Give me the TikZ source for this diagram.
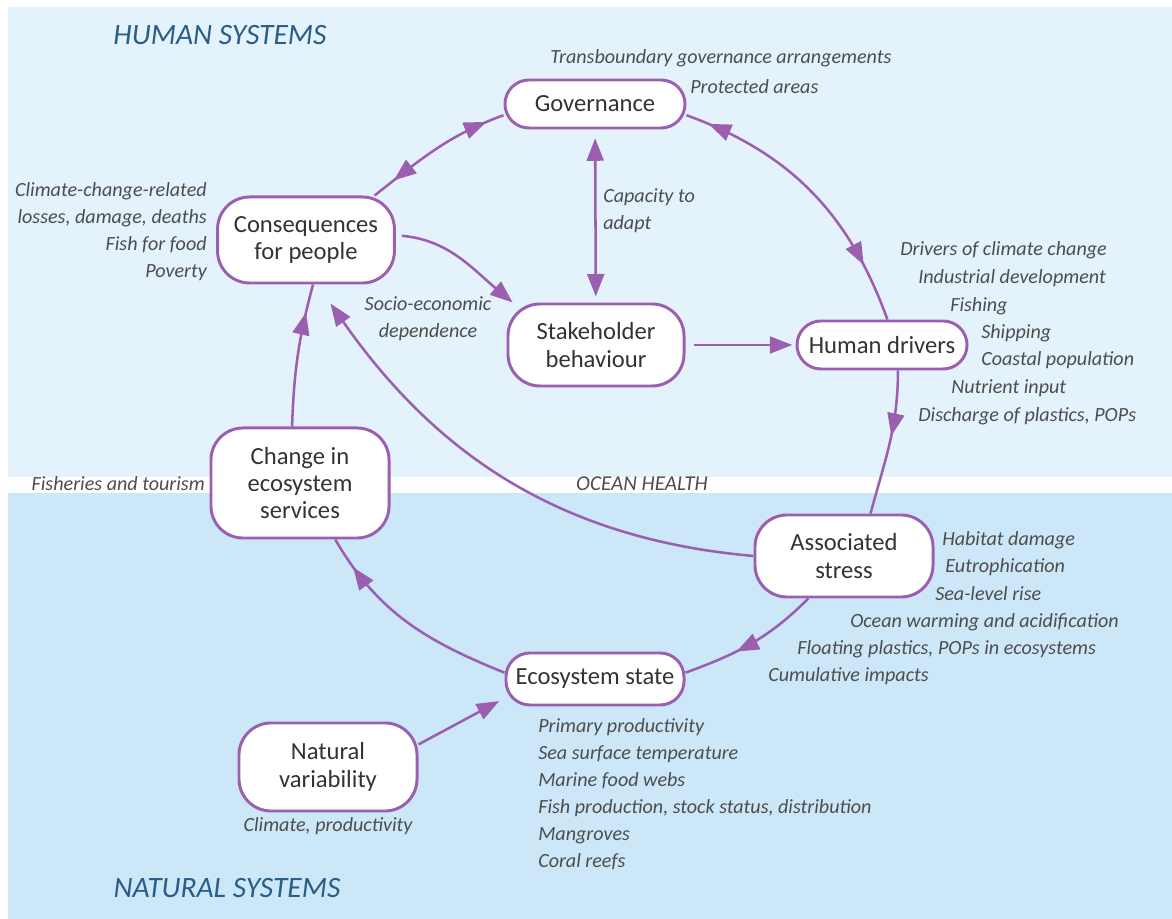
\documentclass[tikz,border=0pt]{standalone}
\usepackage{fontspec}
\setmainfont{Carlito}
\usepackage{xcolor}
\usepackage{tikz}
\usetikzlibrary{arrows.meta,positioning,decorations.markings}

\definecolor{humanzone}{HTML}{E4F2FB}
\definecolor{seazone}{HTML}{CBE7F8}
\definecolor{cyclepurple}{HTML}{9C5FAF}
\definecolor{boxink}{HTML}{333333}
\definecolor{noteink}{HTML}{4D4D4D}
\definecolor{zoneink}{HTML}{2A5D87}

\begin{document}
\begin{tikzpicture}[
    x=0.025cm, y=0.025cm,
    >={Triangle[length=16pt,width=12pt]},
    box/.style={rectangle, draw=cyclepurple, line width=2.1pt, fill=white, rounded corners=0.6cm, align=center, minimum width=4.45cm, minimum height=1.3cm, inner sep=2pt, text=boxink, font=\fontsize{17.5}{19.5}\selectfont},
    tallbox/.style={box, rounded corners=0.8cm},
    note/.style={font=\itshape\fontsize{14.3}{19.2}\selectfont, text=noteink, inner sep=0pt},
    zone/.style={font=\itshape\fontsize{21}{24}\selectfont, text=zoneink, inner sep=0pt},
    link/.style={color=cyclepurple, line width=1.8pt},
    tipat/.style={postaction={decorate, decoration={markings, mark=at position #1 with {\arrow{>}}}}},
    tipback/.style={postaction={decorate, decoration={markings, mark=at position #1 with {\arrowreversed{>}}}}}
]
% background bands
\fill[white] (0,0) rectangle (1172,919);
\fill[humanzone] (8,442) rectangle (1172,912);
\fill[seazone] (8,0) rectangle (1172,426);
\useasboundingbox (0,0) rectangle (1172,919);

\node[zone] (humansys) at (220,884) {HUMAN SYSTEMS};
\node[zone] (natsys) at (227,31) {NATURAL SYSTEMS};
\node[note, font=\itshape\fontsize{15}{18}\selectfont] (ocean) at (642,435) {OCEAN HEALTH};

% boxes
\node[box, minimum height=1.2cm, minimum width=4.5cm] (gov) at (595,815) {Governance};
\node[tallbox, minimum height=2.15cm, minimum width=4.42cm] (cons) at (306,679) {Consequences\\for people};
\node[tallbox, minimum height=2.05cm, minimum width=4.4cm] (stake) at (596,574) {Stakeholder\\behaviour};
\node[box, minimum height=1.2cm, minimum width=4.25cm, right=2.75cm of stake] (human) {Human drivers};
\node[tallbox, minimum height=2.75cm] (change) at (300,436) {Change in\\ecosystem\\services};
\node[tallbox, minimum height=2.05cm] (stress) at (844,363) {Associated\\stress};
\node[box] (eco) at (595,240) {Ecosystem state};
\node[tallbox, minimum height=2.2cm] (nat) at (328,152) {Natural\\variability};

% notes
\node[note, anchor=west] (transb) at (550,861) {Transboundary governance arrangements};
\node[note, anchor=west] (protect) at (690,832) {Protected areas};
\node[note, anchor=east, align=right] (conslist) at (207,687) {Climate-change-related\\losses, damage, deaths\\Fish for food\\Poverty};
\node[note, anchor=west, align=left] (capacity) at (603,708) {Capacity to\\adapt};
\node[note, align=center] (socio) at (428,600) {Socio-economic\\dependence};
\node[note, anchor=east] (fisheries) at (205,435) {Fisheries and tourism};
\node[note, below=0.12cm of nat] (natlist) {Climate, productivity};
\node[note, anchor=west, align=left] (ecolist) at (538,125) {Primary productivity\\Sea surface temperature\\Marine food webs\\Fish production, stock status, distribution\\Mangroves\\Coral reefs};
\foreach \x/\y/\t [count=\i] in {900/669/Drivers of climate change, 918/641/Industrial development, 950/613/Fishing, 981/586/Shipping, 981/559/Coastal population, 951/531/Nutrient input, 918/503/{Discharge of plastics, POPs}}
    \node[note, anchor=west] (driver\i) at (\x,\y) {\t};
\foreach \x/\y/\t [count=\i] in {942/379/Habitat damage, 945/352/Eutrophication, 935/325/Sea-level rise, 850/297/Ocean warming and acidification, 797/270/{Floating plastics, POPs in ecosystems}, 768/243/Cumulative impacts}
    \node[note, anchor=west] (stressor\i) at (\x,\y) {\t};

% connectors
\draw[link, tipback=0.16, tipat=0.88] (cons.33) to[out=38,in=200] (gov.187);
\draw[link, <->, shorten <=0.22cm, shorten >=0.15cm] (gov) -- (stake);
\draw[link, ->, shorten <=0.15cm] (cons.3) to[out=-5,in=140] (stake.153);
\draw[link, ->, shorten <=0.2cm, shorten >=0.08cm] (stake) -- (human);
\draw[link, tipback=0.08, tipat=0.8] (gov.-7) to[out=-20,in=110] (human.78);
\draw[link, tipat=0.45] (human.-58) to[out=-90,in=75] (stress.58);
\draw[link, tipat=0.62] (stress.230) to[out=225,in=20] (eco.4);
\draw[link, ->, shorten >=0.58cm] (stress.west) to[out=175,in=-55] (cons.-76);
\draw[link, tipat=0.85] (eco.176) to[out=158,in=-60] (change.-58);
\draw[link, tipat=0.8] (change.98) to[out=88,in=-105] (cons.-81);
\draw[link, ->, shorten >=0.15cm] (nat.14) -- (eco.192);
\end{tikzpicture}
\end{document}
